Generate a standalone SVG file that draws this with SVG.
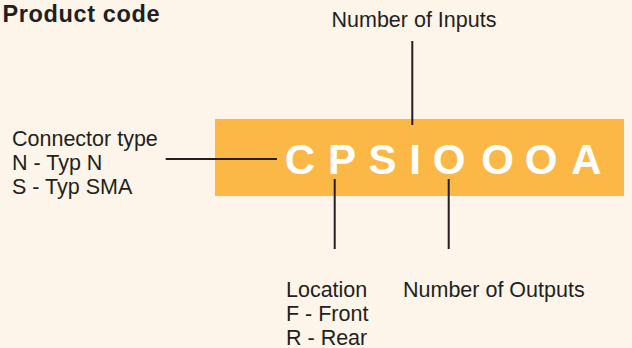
<svg xmlns="http://www.w3.org/2000/svg" width="632" height="348" viewBox="0 0 632 348">
<style>
.lbl{font-family:"Liberation Sans",Arial,Helvetica,sans-serif;font-size:21.5px;fill:#231f20}
.ttl{font-family:"Liberation Sans",Arial,Helvetica,sans-serif;font-size:23.5px;font-weight:bold;fill:#231f20}
.code{font-family:"Liberation Sans",Arial,Helvetica,sans-serif;font-size:42px;font-weight:bold;fill:#ffffff}
.conn line{stroke:#231f20;stroke-width:2;fill:none}
</style>
<rect x="0" y="0" width="632" height="348" fill="#fdf5e9"/>
<g id="title"><text class="ttl" x="2.5" y="21.5" textLength="157" lengthAdjust="spacing">Product code</text></g>
<g id="code-box">
<rect x="215" y="119" width="409" height="77" fill="#fcb847"/>
<text class="code" y="173.5" text-anchor="middle" x="300 321 342 362 382.5 399 415 432 449 473 497.5 519 541 563 586.5">C P S I O O O A</text>
</g>
<g id="inputs"><text class="lbl" x="331.5" y="27">Number of Inputs</text></g>
<g id="connector-type">
<text class="lbl" x="12" y="146">Connector type</text>
<text class="lbl" x="12" y="170">N - Typ N</text>
<text class="lbl" x="12" y="194">S - Typ SMA</text>
</g>
<g id="location">
<text class="lbl" x="286" y="296.5">Location</text>
<text class="lbl" x="286" y="320.5">F - Front</text>
<text class="lbl" x="286" y="344.5">R - Rear</text>
</g>
<g id="outputs"><text class="lbl" x="403" y="296.5">Number of Outputs</text></g>
<g id="connectors" class="conn">
<line x1="412.3" y1="41" x2="412.3" y2="125"/>
<line x1="165.7" y1="159" x2="277" y2="159"/>
<line x1="334.7" y1="179" x2="334.7" y2="249"/>
<line x1="448.7" y1="179" x2="448.7" y2="249"/>
</g>
</svg>
